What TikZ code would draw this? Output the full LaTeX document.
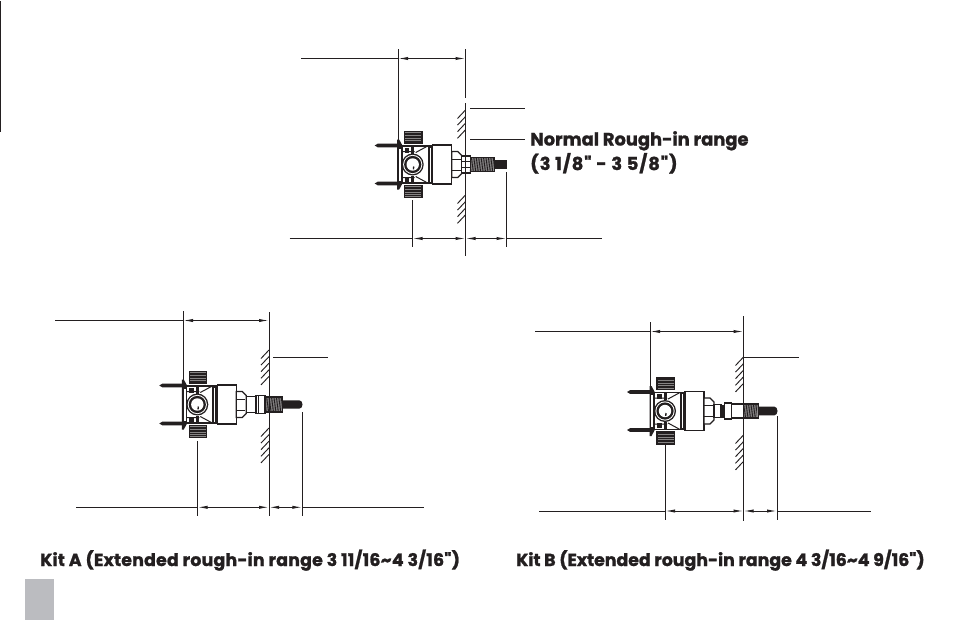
\documentclass[tikz,border=0pt]{standalone}
\usepackage{fontspec}
\newfontfamily\lblfont{Poppins}[BoldFeatures={FakeBold=1.3}]
\usetikzlibrary{arrows.meta}
\definecolor{pagegrey}{HTML}{BBBCC0}
\definecolor{inkblack}{HTML}{231F20}
\tikzset{
  ln/.style={draw=inkblack,line width=0.75pt},
  part/.style={draw=inkblack,fill=white,line width=0.9pt},
  dimn/.style={ln,{Latex[length=7.5pt,width=2.4pt]}-{Latex[length=7.5pt,width=2.4pt]}},
  bigtext/.style={anchor=base west,inner sep=0pt,font=\lblfont\bfseries\fontsize{13.4}{16}\selectfont,text=inkblack},
  kittext/.style={anchor=base west,inner sep=0pt,font=\lblfont\bfseries\fontsize{13}{16}\selectfont,text=inkblack},
}
% hatch block: wall x, top y, last stroke index
\newcommand{\hatchblock}[3]{%
  \foreach \k in {0,...,#3}{\draw[ln,line width=0.7pt] (#1,#2+\k*6.6) -- ++(-8,8.5);}%
}
% threaded section: x1,x2,half-height
\newcommand{\threads}[3]{%
  \fill[inkblack!50] (#1,-#3) rectangle (#2,#3);
  \draw[part,fill=none] (#1,-#3) rectangle (#2,#3);
  \pgfmathsetmacro{\tstart}{#1}%
  \pgfmathsetmacro{\tnext}{#1+1.7}%
  \pgfmathsetmacro{\tend}{#2-1.4}%
  \foreach \t in {\tstart,\tnext,...,\tend}{\draw[inkblack,line width=0.6pt] (\t,#3) -- (\t+1.4,-#3);}%
}
% common valve body, centred on the ball
\newcommand{\valvebody}{%
  % screws
  \foreach \s in {-19,19}{
    \fill[inkblack] (-38,\s) -- (-35,\s-1.8) -- (-13,\s-1.8) -- (-13,\s+1.8) -- (-35,\s+1.8) -- cycle;
  }
  % handles
  \foreach \a/\b in {-33/-21.5,21/33}{
    \draw[part,fill=inkblack!55] (-8,\a) rectangle (9.2,\b);
    \foreach \t in {1.6,3.2,...,10.5}{\draw[inkblack,line width=0.7pt] (-8,\a+\t) -- (9.2,\a+\t);}
  }
  % plate
  \fill[inkblack] (-15.5,-25) -- (-13.5,-25) -- (-10,-18.5) -- (-10,18.5) -- (-13.5,25) -- (-15.5,25) -- cycle;
  \fill[white] (-13.6,-16) rectangle (-11.6,16);
  % body
  \draw[part] (-10.5,-18.5) -- (20,-18.5) -- (20,18.5) -- (-10.5,18.5) -- cycle;
  \draw[ln] (-10.5,-13) -- (2,-13) (3,-12) -- (15,-18.5) (-10.5,13) -- (2,13) (3,12) -- (15,18.5);
  \fill[inkblack] (-8,-17) rectangle (-3.5,-12);
  \fill[inkblack] (-1.5,-18) rectangle (1.5,-11);
  \fill[inkblack] (-8,12) rectangle (-3.5,17);
  \fill[inkblack] (-1.5,11) rectangle (1.5,18);
  \fill[inkblack] (15,-18.5) rectangle (20,18.5);
  \fill[white] (17,-17) rectangle (18,17);
  % ball
  \fill[inkblack] (0,0) circle (11);
  \fill[white] (0,0) circle (9.6);
  \fill[inkblack] (0,0) circle (8.6);
  \fill[white] (0,0) circle (6.2);
  \draw[inkblack,line width=1pt] (1,2) arc (-30:40:2.5);
  % large nut
  \draw[part] (20,-19.5) rectangle (39,19.5);
  % hex nut
  \draw[part] (39,-13) -- (45,-13) -- (49,-9) -- (49,9) -- (45,13) -- (39,13) -- cycle;
  \draw[ln] (39,-5.5) -- (48,-5.5) (39,5.5) -- (48,5.5);
}
\begin{document}
\begin{tikzpicture}[x=0.75pt,y=-0.75pt]
\useasboundingbox (0,0) rectangle (954,621);
\fill[white] (0,0) rectangle (954,621);
\draw[ln] (0.5,1) -- (0.5,132);
\fill[pagegrey] (25,579) rectangle (54,620);

% ---------- Normal ----------
\begin{scope}[shift={(412.7,164.5)}]
  \valvebody
  \draw[part] (49,-8.5) rectangle (57.5,8.5);
  \draw[ln] (49,-3) -- (57.5,-3) (49,3) -- (57.5,3);
  \threads{57.5}{81.5}{7.2}
  \fill[inkblack] (81.5,-4.2) rectangle (94.5,4.2);
\end{scope}
\draw[ln] (465.5,49) -- (465.5,98);
\draw[ln] (465.5,103) -- (465.5,256);
\draw[ln] (398,49) -- (398,140);
\draw[ln] (301,58.5) -- (398,58.5);
\draw[dimn] (398,58.5) -- (465.5,58.5);
\hatchblock{465.5}{110}{3}
\hatchblock{465.5}{195}{3}
\draw[ln] (470,108) -- (525,108);
\draw[ln] (470,139) -- (525,139);
\node[bigtext] (normalA) at (530,145.5) {Normal Rough-in range};
\node[bigtext] (normalB) at (530,170) {\addfontfeature{LetterSpace=5}(3 1/8" - 3 5/8")};
\draw[ln] (412.5,200) -- (412.5,247);
\draw[ln] (506.5,172) -- (506.5,247);
\draw[ln] (289.5,238.5) -- (412.5,238.5);
\draw[dimn] (412.5,238.5) -- (465.5,238.5);
\draw[dimn] (465.5,238.5) -- (506.5,238.5);
\draw[ln] (506.5,238.5) -- (602,238.5);

% ---------- Kit A ----------
\begin{scope}[shift={(197.3,404.5)}]
  \valvebody
  \draw[part] (49.4,-7.8) rectangle (58.7,7.8);
  \draw[part] (58.7,-8.8) rectangle (67.7,8.8);
  \draw[ln] (61,-8.8) -- (61,8.8);
  \threads{67.7}{85.4}{7.5}
  \fill[inkblack] (85.4,-4.2) -- (102,-4.2) arc (-90:90:3.2 and 4.2) -- (85.4,4.2) -- cycle;
\end{scope}
\draw[ln] (269,312) -- (269,516);
\draw[ln] (183,311) -- (183,395);
\draw[ln] (55,320.5) -- (183,320.5);
\draw[dimn] (183,320.5) -- (269,320.5);
\hatchblock{269}{350}{4}
\hatchblock{269}{428}{4}
\draw[ln] (273,357) -- (328,357);
\draw[ln] (197.5,441) -- (197.5,516);
\draw[ln] (302.3,412) -- (302.3,516);
\draw[ln] (76,507.3) -- (197.5,507.3);
\draw[dimn] (197.5,507.3) -- (269,507.3);
\draw[dimn] (269,507.3) -- (302.3,507.3);
\draw[ln] (302.3,507.3) -- (424,507.3);
\node[kittext] (kitA) at (40,566) {\addfontfeature{LetterSpace=1.3}Kit A (Extended rough-in range 3 11/16\string~4 3/16")};

% ---------- Kit B ----------
\begin{scope}[shift={(665,411)}]
  \valvebody
  \draw[part] (49,-6.5) rectangle (56,6.5);
  \fill[inkblack] (56,-6.5) rectangle (59.3,6.5);
  \draw[part] (59.3,-8) rectangle (66.7,8);
  \draw[part] (66.7,-7) rectangle (78.7,7);
  \threads{78.7}{93.3}{7}
  \fill[inkblack] (93.3,-4.3) -- (109.5,-4.3) arc (-90:90:3 and 4.3) -- (93.3,4.3) -- cycle;
\end{scope}
\draw[ln] (743.5,316) -- (743.5,521);
\draw[ln] (650,322) -- (650,390);
\draw[ln] (535,331.5) -- (650,331.5);
\draw[dimn] (650,331.5) -- (743.5,331.5);
\hatchblock{743.5}{357}{4}
\hatchblock{743.5}{435}{4}
\draw[ln] (743.5,357) -- (799,357);
\draw[ln] (665,445) -- (665,520);
\draw[ln] (777,416) -- (777,520);
\draw[ln] (539,511) -- (665,511);
\draw[dimn] (665,511) -- (743.5,511);
\draw[dimn] (743.5,511) -- (777,511);
\draw[ln] (777,511) -- (871,511);
\node[kittext] (kitB) at (516,566) {Kit B (Extended rough-in range 4 3/16\string~4 9/16")};
\end{tikzpicture}
\end{document}
